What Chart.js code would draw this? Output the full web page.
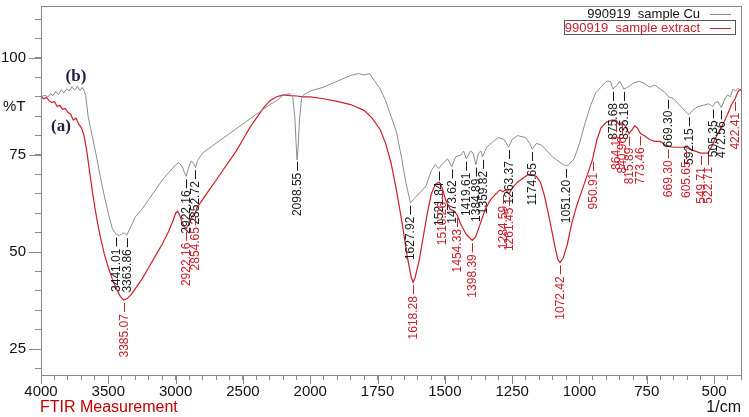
<!DOCTYPE html>
<html>
<head>
<meta charset="utf-8">
<script src="https://cdn.jsdelivr.net/npm/chart.js@4.4.1/dist/chart.umd.min.js"></script>
<style>
  html, body { margin: 0; padding: 0; background: #fff; }
  #wrap { width: 749px; height: 417px; }
</style>
</head>
<body>
<div id="wrap"><canvas id="ftir" width="749" height="417"></canvas></div>
<script>
// wavenumber (1/cm), %T
const cuSpectrum = [
  [4000, 90.0], [3970, 90.4], [3950, 89.9], [3930, 90.8], [3910, 90.3], [3890, 91.4],
  [3870, 90.6], [3850, 91.8], [3830, 91.0], [3810, 92.0], [3790, 91.5], [3770, 92.6],
  [3750, 91.7], [3730, 92.7], [3710, 91.6], [3695, 92.4], [3680, 91.6], [3668, 90.4],
  [3650, 85.0], [3620, 80.0], [3590, 75.0], [3560, 69.5], [3530, 64.5], [3500, 60.0],
  [3470, 56.0], [3441, 54.5], [3420, 54.3], [3400, 54.6], [3385, 55.0], [3363, 54.3],
  [3340, 56.0], [3300, 59.0], [3250, 61.0], [3200, 63.5], [3150, 66.0], [3100, 68.5],
  [3050, 70.5], [3000, 72.5], [2975, 73.0], [2950, 72.0], [2935, 70.5], [2922, 69.5],
  [2905, 71.5], [2885, 73.5], [2865, 72.8], [2852, 71.8], [2838, 73.5], [2800, 75.5],
  [2700, 78.0], [2600, 80.5], [2500, 83.0], [2400, 85.5], [2300, 88.0], [2250, 89.0],
  [2200, 90.5], [2150, 90.8], [2130, 90.0], [2115, 85.0], [2105, 78.0], [2098, 73.7],
  [2090, 77.0], [2080, 84.0], [2065, 89.5], [2050, 90.5], [2000, 91.5], [1950, 92.5],
  [1900, 94.0], [1850, 95.5], [1820, 96.0], [1800, 95.6], [1780, 96.0], [1760, 94.0],
  [1740, 92.0], [1720, 89.0], [1700, 85.0], [1680, 81.0], [1660, 74.0], [1645, 68.0],
  [1628, 62.7], [1610, 64.0], [1590, 65.5], [1570, 67.0], [1550, 71.0], [1535, 72.5],
  [1522, 71.5], [1505, 73.0], [1490, 74.0], [1474, 72.0], [1460, 74.5], [1440, 75.0],
  [1430, 76.0], [1420, 74.0], [1405, 76.0], [1395, 75.5], [1385, 72.5], [1375, 75.5],
  [1366, 76.0], [1360, 74.5], [1345, 77.0], [1320, 78.5], [1300, 79.5], [1280, 79.0],
  [1263, 77.0], [1250, 79.0], [1230, 80.0], [1200, 79.5], [1185, 78.0], [1175, 76.5],
  [1160, 78.0], [1140, 77.5], [1120, 76.0], [1100, 74.5], [1080, 73.5], [1060, 72.5],
  [1051, 72.2], [1040, 72.5], [1020, 74.0], [1000, 78.0], [980, 83.0], [960, 87.5],
  [940, 91.0], [920, 92.5], [900, 94.0], [885, 94.0], [876, 92.0], [860, 93.0],
  [850, 94.0], [835, 92.0], [820, 92.5], [800, 93.5], [780, 94.0], [760, 93.5],
  [740, 92.5], [720, 93.0], [700, 92.0], [680, 91.0], [669, 90.0], [650, 89.5],
  [630, 88.0], [610, 86.5], [600, 85.7], [592, 85.5], [580, 86.5], [560, 87.5],
  [540, 87.8], [520, 88.2], [505, 87.5], [495, 88.6], [485, 88.7], [473, 87.2],
  [460, 89.5], [450, 90.5], [440, 90.0], [430, 92.0], [420, 91.5], [410, 92.2], [400, 91.5]
];

const extractSpectrum = [
  [4000, 90.0], [3980, 89.5], [3960, 89.8], [3940, 89.0], [3920, 88.5], [3900, 88.8],
  [3880, 87.5], [3860, 87.8], [3840, 86.8], [3820, 87.0], [3800, 86.0], [3780, 85.5],
  [3760, 84.0], [3740, 84.5], [3720, 83.0], [3700, 82.0], [3680, 80.0], [3660, 76.0],
  [3640, 71.0], [3620, 66.0], [3600, 61.5], [3580, 57.5], [3560, 54.0], [3530, 49.5],
  [3500, 46.0], [3470, 43.0], [3440, 40.5], [3410, 38.5], [3385, 37.6], [3360, 38.0],
  [3330, 39.0], [3300, 40.5], [3250, 43.0], [3200, 46.0], [3150, 49.0], [3100, 52.0],
  [3050, 55.5], [3020, 58.0], [3000, 60.0], [2985, 60.5], [2970, 59.5], [2950, 57.5],
  [2935, 56.5], [2922, 56.0], [2905, 57.0], [2890, 58.5], [2870, 59.5], [2855, 60.0],
  [2840, 61.5], [2800, 63.5], [2750, 66.0], [2700, 68.5], [2650, 71.0], [2600, 73.5],
  [2550, 76.0], [2500, 79.0], [2450, 82.0], [2400, 84.5], [2350, 87.0], [2300, 89.0],
  [2250, 90.0], [2200, 90.5], [2150, 90.3], [2100, 90.2], [2050, 90.0], [2000, 90.0],
  [1950, 89.5], [1900, 88.8], [1850, 88.0], [1800, 86.5], [1770, 84.5], [1740, 81.5],
  [1720, 78.0], [1700, 73.0], [1680, 66.0], [1660, 58.0], [1640, 49.0], [1625, 43.5],
  [1618, 42.2], [1610, 43.5], [1595, 48.0], [1580, 54.0], [1565, 60.0], [1550, 65.0],
  [1535, 67.5], [1521, 68.0], [1510, 66.5], [1495, 63.0], [1480, 61.0], [1465, 60.5],
  [1454, 59.5], [1440, 57.0], [1420, 54.5], [1398, 53.0], [1385, 54.0], [1370, 57.0],
  [1350, 61.0], [1330, 63.5], [1310, 65.0], [1295, 66.0], [1285, 65.5], [1275, 66.0],
  [1268, 65.5], [1261, 65.0], [1250, 66.5], [1230, 68.0], [1210, 69.0], [1190, 70.0],
  [1175, 69.8], [1160, 69.5], [1145, 68.0], [1130, 64.5], [1110, 58.0], [1090, 51.0],
  [1080, 48.0], [1072, 47.3], [1060, 48.5], [1045, 52.0], [1030, 57.0], [1010, 62.0],
  [990, 66.0], [970, 70.0], [951, 74.0], [935, 79.0], [920, 82.0], [900, 83.5],
  [880, 84.0], [864, 84.0], [855, 83.0], [841, 83.3], [830, 82.5], [816, 80.5],
  [805, 81.5], [795, 82.5], [785, 82.0], [773, 80.5], [760, 80.0], [740, 79.0],
  [720, 78.5], [700, 78.5], [680, 77.5], [669, 77.2], [650, 77.0], [630, 77.0],
  [606, 77.0], [590, 76.5], [570, 76.0], [550, 75.5], [535, 75.5], [523, 75.5],
  [510, 77.0], [490, 80.0], [470, 82.5], [450, 85.5], [435, 88.0], [422, 89.5],
  [410, 91.5], [400, 92.0]
];

const cuPeaks = [3441.01, 3363.86, 2922.16, 2852.72, 2098.55, 1627.92, 1521.84, 1473.62,
  1419.61, 1384.89, 1359.82, 1263.37, 1174.65, 1051.20, 875.68, 835.18, 669.30, 592.15,
  505.35, 472.56];
const extractPeaks = [3385.07, 2922.16, 2854.65, 1618.28, 1510.26, 1454.33, 1398.39,
  1284.59, 1261.45, 1072.42, 950.91, 864.11, 840.96, 815.89, 773.46, 669.30, 605.65,
  549.71, 522.71, 422.41];

const xTickLabels = [4000, 3500, 3000, 2500, 2000, 1750, 1500, 1250, 1000, 750, 500];
const yTickLabels = [25, 50, 75, 100];

const GREY = '#8c8c8c';
const RED = '#c8202c';
const FONT = "'Liberation Sans', Arial, sans-serif";

// the 4000-2000 half of the axis is drawn at half scale (Shimadzu style)
function toAxis(w) { return w > 2000 ? 2000 + (w - 2000) / 2 : w; }
function fromAxis(u) { return u > 2000 ? 2000 + (u - 2000) * 2 : u; }

function interp(series, w) {
  for (let i = 0; i < series.length - 1; i++) {
    const [w1, t1] = series[i], [w2, t2] = series[i + 1];
    if (w <= w1 && w >= w2) {
      return t1 + (t2 - t1) * (w1 - w) / (w1 - w2);
    }
  }
  return series[series.length - 1][1];
}

const extrasPlugin = {
  id: 'extras',
  afterDraw(chart) {
    const { ctx, chartArea: a, scales } = chart;
    const xs = scales.x, ys = scales.y;
    ctx.save();

    // frame
    ctx.strokeStyle = '#8a8a8a';
    ctx.lineWidth = 1;
    ctx.strokeRect(a.left + 0.5, a.top + 0.5, a.right - a.left, a.bottom - a.top);

    // longer major ticks
    ctx.beginPath();
    yTickLabels.forEach(v => {
      const y = Math.round(ys.getPixelForValue(v)) + 0.5;
      ctx.moveTo(a.left - 12, y); ctx.lineTo(a.left, y);
    });
    xTickLabels.forEach(w => {
      const x = Math.round(xs.getPixelForValue(toAxis(w))) + 0.5;
      ctx.moveTo(x, a.bottom); ctx.lineTo(x, a.bottom + 9);
    });
    ctx.stroke();

    // peak labels
    const drawPeaks = (peaks, series, color) => {
      ctx.strokeStyle = color;
      ctx.fillStyle = color;
      ctx.font = '12px ' + FONT;
      peaks.forEach(w => {
        const x = Math.round(xs.getPixelForValue(toAxis(w))) + 0.5;
        const y = ys.getPixelForValue(interp(series, w));
        ctx.beginPath();
        ctx.moveTo(x, y + 3);
        ctx.lineTo(x, y + 12);
        ctx.stroke();
        ctx.save();
        ctx.translate(x, y + 14);
        ctx.rotate(-Math.PI / 2);
        ctx.textAlign = 'right';
        ctx.textBaseline = 'middle';
        ctx.fillText(w.toFixed(2), 0, 0);
        ctx.restore();
      });
    };
    drawPeaks(cuPeaks, cuSpectrum, '#1a1a1a');
    drawPeaks(extractPeaks, extractSpectrum, RED);

    // %T
    ctx.fillStyle = '#111';
    ctx.font = '15px ' + FONT;
    ctx.textAlign = 'left';
    ctx.textBaseline = 'middle';
    ctx.fillText('%T', 3, ys.getPixelForValue(87.5));

    // (a) / (b) markers
    ctx.font = 'bold 17px "Liberation Serif", "Times New Roman", serif';
    ctx.fillStyle = '#1e1e46';
    ctx.textAlign = 'center';
    ctx.fillText('(b)', 76, 77);
    ctx.fillText('(a)', 61, 127);

    // legend
    ctx.font = '13px ' + FONT;
    ctx.textAlign = 'right';
    ctx.fillStyle = '#111';
    ctx.fillText('990919  sample Cu', 700, 14);
    ctx.fillStyle = RED;
    ctx.fillText('990919  sample extract', 700, 28);
    ctx.lineWidth = 1;
    ctx.strokeStyle = GREY;
    ctx.beginPath(); ctx.moveTo(710, 14.5); ctx.lineTo(731, 14.5); ctx.stroke();
    ctx.strokeStyle = RED;
    ctx.beginPath(); ctx.moveTo(710, 28.5); ctx.lineTo(731, 28.5); ctx.stroke();
    ctx.strokeStyle = '#555';
    ctx.strokeRect(564.5, 20.5, 171, 14);

    // footer texts
    ctx.font = '16px ' + FONT;
    ctx.textAlign = 'left';
    ctx.fillStyle = '#c00000';
    ctx.fillText('FTIR Measurement', 40, 408);
    ctx.textAlign = 'right';
    ctx.fillStyle = '#111';
    ctx.fillText('1/cm', 741, 408);

    ctx.restore();
  }
};

new Chart(document.getElementById('ftir'), {
  type: 'line',
  data: {
    datasets: [
      {
        label: '990919  sample Cu',
        data: cuSpectrum.map(([w, t]) => ({ x: toAxis(w), y: t })),
        borderColor: GREY,
        borderWidth: 1,
        pointRadius: 0,
        tension: 0
      },
      {
        label: '990919  sample extract',
        data: extractSpectrum.map(([w, t]) => ({ x: toAxis(w), y: t })),
        borderColor: RED,
        borderWidth: 1.2,
        pointRadius: 0,
        tension: 0
      }
    ]
  },
  options: {
    responsive: false,
    animation: false,
    devicePixelRatio: 1,
    layout: { padding: { left: 0, right: 8, top: 6, bottom: 0 } },
    plugins: { legend: { display: false }, tooltip: { enabled: false } },
    scales: {
      x: {
        type: 'linear',
        reverse: true,
        min: 400,
        max: 3000,
        afterFit: s => { s.height = 42; s.paddingLeft = 0; s.paddingRight = 0; },
        grid: { drawOnChartArea: false, tickLength: 5, color: '#8a8a8a' },
        border: { color: '#8a8a8a' },
        ticks: {
          stepSize: 50,
          autoSkip: false,
          maxRotation: 0,
          padding: 3,
          color: '#111',
          font: { family: FONT, size: 15 },
          callback: v => (v % 250 === 0 ? String(fromAxis(v)) : '')
        }
      },
      y: {
        min: 18.3,
        max: 113.4,
        afterFit: s => { s.width = 41; s.paddingTop = 0; s.paddingBottom = 0; },
        afterBuildTicks: s => {
          const t = [];
          for (let v = 20; v <= 110; v += 5) t.push({ value: v });
          s.ticks = t;
        },
        grid: { drawOnChartArea: false, tickLength: 6, color: '#8a8a8a' },
        border: { color: '#8a8a8a' },
        ticks: {
          autoSkip: false,
          padding: 9,
          color: '#111',
          font: { family: FONT, size: 15 },
          callback: v => (yTickLabels.includes(v) ? String(v) : '')
        }
      }
    }
  },
  plugins: [extrasPlugin]
});
</script>
</body>
</html>
